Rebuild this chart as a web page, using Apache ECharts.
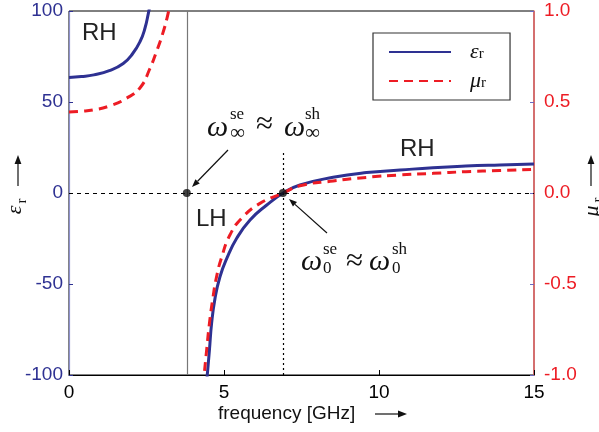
<!DOCTYPE html>
<html>
<head>
<meta charset="utf-8">
<script src="https://cdn.jsdelivr.net/npm/echarts@6/dist/echarts.min.js"></script>
<style>html,body{margin:0;padding:0;background:#fff;}#c{width:599px;height:432px;}</style>
</head>
<body>
<div id="c"></div>
<script>
// ---- data ----
const freqEpsLow = [0, 0.4, 0.8, 1.3, 1.75, 2.05, 2.3, 2.45, 2.56, 2.62];
const epsLow     = [63.5, 64.0, 64.9, 67.2, 71.2, 76.5, 83.5, 90.5, 98.7, 104];
const freqEpsHigh = [4.43, 4.46, 4.53, 4.60, 4.71, 4.87, 5.09, 5.41, 5.84, 6.38, 6.91, 7.45, 8.52, 9.6, 10.68, 11.74, 12.8, 13.9, 15];
const epsHigh     = [-106, -100, -86.3, -71.6, -57.9, -46, -35.9, -24.9, -14.8, -6.6, 0, 4.4, 8.6, 11.2, 12.6, 13.9, 14.8, 15.4, 15.9];
const freqMuLow = [0, 0.4, 0.8, 1.3, 1.85, 2.3, 2.6, 2.85, 3.03, 3.16, 3.25];
const muLow     = [0.445, 0.449, 0.457, 0.478, 0.52, 0.58, 0.68, 0.79, 0.88, 0.96, 1.03];
const freqMuHigh = [4.33, 4.36, 4.44, 4.53, 4.64, 4.76, 4.93, 5.19, 5.57, 6.16, 6.91, 7.45, 8.52, 9.6, 10.68, 11.74, 12.8, 13.9, 15];
const muHigh     = [-1.06, -1.0, -0.863, -0.716, -0.579, -0.46, -0.35, -0.231, -0.139, -0.057, 0, 0.040, 0.066, 0.086, 0.099, 0.108, 0.117, 0.123, 0.130];
const omegaInf = 3.8;     // GHz, solid vertical line
const omega0 = 6.9;       // GHz, dotted vertical line
const omega0LineTop = 23; // eps units where the dotted line stops
const xTicks = [0, 5, 10, 15];
const leftTicks = [-100, -50, 0, 50, 100];
const rightTicks = [-1.0, -0.5, 0.0, 0.5, 1.0];

const pairs = (xs, ys) => xs.map((x, i) => [x, ys[i]]);
const BLUE = '#2e3192', RED = '#ed1c24';

const chart = echarts.init(document.getElementById('c'), null, {renderer: 'canvas'});

const G = [];
function t(x, y, s, size, opt) {
  opt = opt || {};
  G.push({type: 'text', x: x, y: y, rotation: opt.rot || 0, z: 100,
    style: {text: s, fontSize: size, fontFamily: opt.ff || 'Liberation Serif',
      fontStyle: opt.it ? 'italic' : 'normal', fill: opt.color || '#111',
      align: opt.align || 'left', verticalAlign: 'middle'}});
}
function arrow(x1, y1, x2, y2, color, head) {
  head = head || 8;
  const a = Math.atan2(y2 - y1, x2 - x1);
  const w = head * 0.38;
  const bx = x2 - head * Math.cos(a), by = y2 - head * Math.sin(a);
  G.push({type: 'line', z: 100, shape: {x1: x1, y1: y1, x2: bx, y2: by}, style: {stroke: color || '#111', lineWidth: 1.2}});
  G.push({type: 'polygon', z: 100, shape: {points: [[x2, y2], [bx - w * Math.sin(a), by + w * Math.cos(a)], [bx + w * Math.sin(a), by - w * Math.cos(a)]]}, style: {fill: color || '#111'}});
}
// region labels
t(82, 33, 'RH', 24, {ff: 'Liberation Sans', color: '#222'});
t(196, 219, 'LH', 24, {ff: 'Liberation Sans', color: '#222'});
t(400, 149, 'RH', 24, {ff: 'Liberation Sans', color: '#222'});
// annotation 1
t(207, 128, 'ω', 30, {it: true});
t(230, 115, 'se', 17);
t(230, 133, '∞', 21);
t(256, 125, '≈', 31);
t(284, 128, 'ω', 30, {it: true});
t(305, 115, 'sh', 17);
t(305, 133, '∞', 21);
arrow(228, 150, 192, 187);
// annotation 2
t(301, 262, 'ω', 30, {it: true});
t(323, 250, 'se', 17);
t(323, 269, '0', 17);
t(346, 262, '≈', 31);
t(369, 262, 'ω', 30, {it: true});
t(392, 250, 'sh', 17);
t(392, 269, '0', 17);
arrow(327, 233, 289, 199);
// axis names
t(15, 210, 'ε', 22, {it: true, rot: Math.PI / 2, align: 'center'});
t(22, 201, 'r', 15, {rot: Math.PI / 2, align: 'center'});
arrow(18, 186, 18, 155, '#111', 9);
t(592, 211, 'μ', 22, {it: true, rot: Math.PI / 2, align: 'center'});
t(598, 200, 'r', 15, {rot: Math.PI / 2, align: 'center'});
arrow(591, 186, 591, 155, '#111', 9);
t(218, 414, 'frequency [GHz]', 19, {ff: 'Liberation Sans'});
arrow(375, 414, 407, 414, '#111', 9);

const option = {
  animation: false,
  backgroundColor: '#fff',
  grid: {left: 69, right: 65, top: 11, bottom: 57, show: true, borderColor: '#000', borderWidth: 1},
  legend: {
    data: ['eps', 'mu'], orient: 'vertical', left: 373, top: 33,
    padding: [8, 24, 8, 15], itemWidth: 62, itemHeight: 14, itemGap: 7,
    borderColor: '#333', borderWidth: 1.2, backgroundColor: '#fff',
    itemStyle: {opacity: 0},
    formatter: n => n === 'eps' ? '{g|ε}{s|r}' : '{g|μ}{s|r}',
    textStyle: {lineHeight: 20, rich: {
      g: {fontFamily: 'Liberation Serif', fontStyle: 'italic', fontSize: 22, color: '#111', lineHeight: 20, padding: [0, 0, 0, 14]},
      s: {fontFamily: 'Liberation Serif', fontSize: 15, color: '#111', lineHeight: 20, verticalAlign: 'bottom'}
    }}
  },
  xAxis: {
    type: 'value', min: xTicks[0], max: xTicks[xTicks.length - 1], interval: 5,
    axisLine: {onZero: false, lineStyle: {color: '#000', width: 1}},
    axisTick: {inside: true, length: 5, lineStyle: {color: '#000'}},
    axisLabel: {color: '#000', fontSize: 19, fontFamily: 'Liberation Sans', margin: 8},
    splitLine: {show: false}
  },
  yAxis: [{
    type: 'value', min: leftTicks[0], max: leftTicks[leftTicks.length - 1], interval: 50, position: 'left',
    axisLine: {show: true, onZero: false, lineStyle: {color: '#8d90cc', width: 1.2}},
    axisTick: {show: true, inside: true, length: 4, lineStyle: {color: BLUE}},
    axisLabel: {color: BLUE, fontSize: 19, fontFamily: 'Liberation Sans', margin: 6},
    splitLine: {show: false}
  }, {
    type: 'value', min: rightTicks[0], max: rightTicks[rightTicks.length - 1], interval: 0.5, position: 'right',
    axisLine: {show: true, onZero: false, lineStyle: {color: '#f06a6a', width: 1.5}},
    axisTick: {show: true, inside: true, length: 4, lineStyle: {color: '#6a6ac0'}},
    axisLabel: {color: RED, fontSize: 19, fontFamily: 'Liberation Sans', margin: 10, formatter: v => v.toFixed(1)},
    splitLine: {show: false}
  }],
  series: [
    {name: 'eps', type: 'line', yAxisIndex: 0, data: pairs(freqEpsLow, epsLow), showSymbol: false, symbol: 'none',
      smooth: 0.5, clip: true, lineStyle: {color: BLUE, width: 3}, itemStyle: {color: BLUE}, z: 3,
      markLine: {silent: true, symbol: 'none', label: {show: false}, animation: false,
        data: [
          {yAxis: 0, lineStyle: {type: [4, 4], color: '#000', width: 1.2}},
          {xAxis: omegaInf, lineStyle: {type: 'solid', color: '#777', width: 1.2}},
          [{coord: [omega0, leftTicks[0]], lineStyle: {type: [2, 3], color: '#000', width: 1.2}}, {coord: [omega0, omega0LineTop]}]
        ]}},
    {name: 'eps', type: 'line', yAxisIndex: 0, data: pairs(freqEpsHigh, epsHigh), showSymbol: false, symbol: 'none',
      smooth: 0.5, clip: true, lineStyle: {color: BLUE, width: 3}, itemStyle: {color: BLUE}, z: 3},
    {name: 'mu', type: 'line', yAxisIndex: 1, data: pairs(freqMuLow, muLow), showSymbol: false, symbol: 'none',
      smooth: 0.5, clip: true, lineStyle: {color: RED, width: 3, type: [9, 6]}, itemStyle: {color: RED}, z: 4},
    {name: 'mu', type: 'line', yAxisIndex: 1, data: pairs(freqMuHigh, muHigh), showSymbol: false, symbol: 'none',
      smooth: 0.5, clip: true, lineStyle: {color: RED, width: 3, type: [9, 6]}, itemStyle: {color: RED}, z: 4},
    {name: 'dots', type: 'scatter', yAxisIndex: 0, data: [[omegaInf, 0], [omega0, 0]], symbolSize: 8,
      itemStyle: {color: '#111'}, z: 10, silent: true}
  ],
  graphic: G
};
chart.setOption(option);
</script>
</body>
</html>
